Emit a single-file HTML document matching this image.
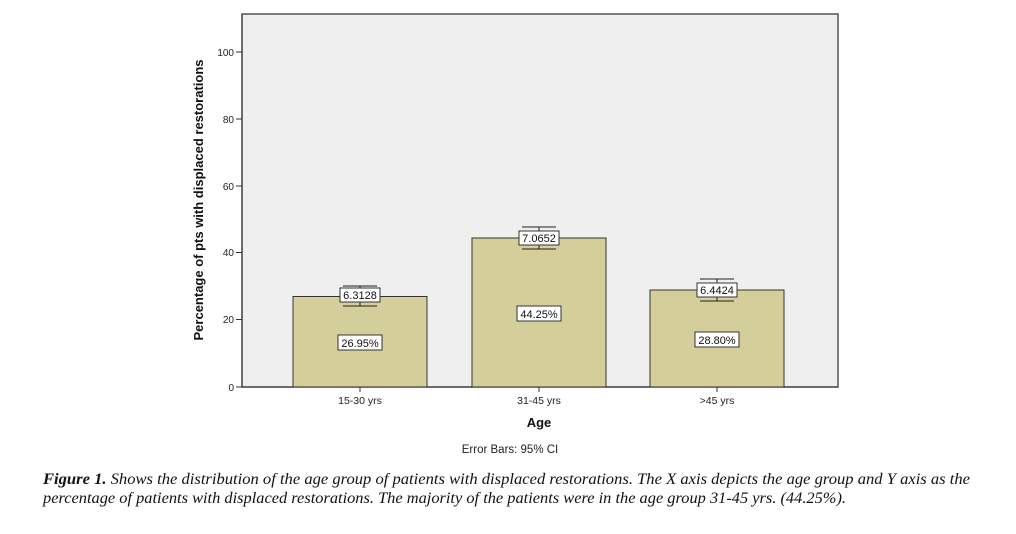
<!DOCTYPE html>
<html><head><style>
body{margin:0;background:#fff;width:1016px;height:529px;overflow:hidden}
</style></head><body>
<svg width="1016" height="529" xmlns="http://www.w3.org/2000/svg" font-family="Liberation Sans, sans-serif">
<rect x="242" y="14" width="596" height="373" fill="#efefef" stroke="#555" stroke-width="1.5"/>
<g stroke="#333" stroke-width="1">
<line x1="242" y1="14" x2="242" y2="387"/>
<line x1="242" y1="387" x2="838" y2="387"/>
<line x1="236" y1="387" x2="242" y2="387"/><line x1="236" y1="319.5" x2="242" y2="319.5"/>
<line x1="236" y1="252.5" x2="242" y2="252.5"/><line x1="236" y1="186" x2="242" y2="186"/>
<line x1="236" y1="119" x2="242" y2="119"/><line x1="236" y1="52" x2="242" y2="52"/>
<line x1="360" y1="387" x2="360" y2="392"/><line x1="539" y1="387" x2="539" y2="392"/><line x1="717" y1="387" x2="717" y2="392"/>
</g>
<g font-size="10" fill="#222" text-anchor="end">
<text x="234" y="391">0</text><text x="234" y="323">20</text><text x="234" y="256">40</text>
<text x="234" y="190">60</text><text x="234" y="123">80</text><text x="234" y="56">100</text>
</g>
<g fill="#d4cf9a" stroke="#333" stroke-width="1">
<rect x="293" y="296.5" width="134" height="90.5"/>
<rect x="472" y="238" width="134" height="149"/>
<rect x="650" y="290" width="134" height="97"/>
</g>
<g stroke="#222" stroke-width="1" fill="none">
<path d="M360 286V306M343 286H377M343 306H377"/>
<path d="M539 227V249M522 227H556M522 249H556"/>
<path d="M717 279V301M700 279H734M700 301H734"/>
</g>
<g font-size="11" fill="#111" text-anchor="middle">
<rect x="340" y="288" width="40" height="14" fill="#fff" stroke="#333"/><text x="360" y="299">6.3128</text>
<rect x="519" y="231" width="40" height="14" fill="#fff" stroke="#333"/><text x="539" y="242">7.0652</text>
<rect x="697" y="283" width="40" height="14" fill="#fff" stroke="#333"/><text x="717" y="294">6.4424</text>
<rect x="338" y="335" width="44" height="15" fill="#fff" stroke="#333"/><text x="360" y="347">26.95%</text>
<rect x="517" y="306" width="44" height="15" fill="#fff" stroke="#333"/><text x="539" y="318">44.25%</text>
<rect x="695" y="332" width="44" height="15" fill="#fff" stroke="#333"/><text x="717" y="344">28.80%</text>
</g>
<g font-size="10.5" fill="#222" text-anchor="middle">
<text x="360" y="404">15-30 yrs</text><text x="539" y="404">31-45 yrs</text><text x="717" y="404">&gt;45 yrs</text>
</g>
<text x="539" y="427" font-size="13" font-weight="bold" text-anchor="middle" fill="#111">Age</text>
<text x="510" y="453" font-size="11.5" text-anchor="middle" fill="#222">Error Bars: 95% CI</text>
<text transform="translate(203,200) rotate(-90)" font-size="13" font-weight="bold" text-anchor="middle" fill="#111">Percentage of pts with displaced restorations</text>
<g font-family="Liberation Serif, serif" font-style="italic" font-size="15.5" fill="#111">
<text x="43" y="484" textLength="927" lengthAdjust="spacingAndGlyphs"><tspan font-weight="bold">Figure 1.</tspan> Shows the distribution of the age group of patients with displaced restorations. The X axis depicts the age group and Y axis as the</text>
<text x="43" y="503" textLength="803" lengthAdjust="spacingAndGlyphs">percentage of patients with displaced restorations. The majority of the patients were in the age group 31-45 yrs. (44.25%).</text>
</g>
</svg>
</body></html>
